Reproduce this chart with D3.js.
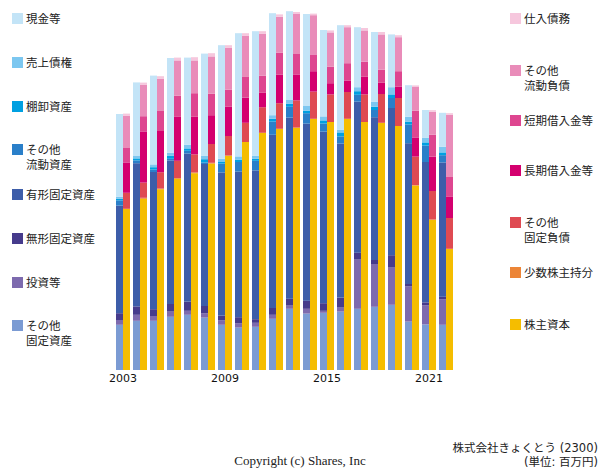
<!DOCTYPE html>
<html><head><meta charset="utf-8">
<script src="https://cdn.jsdelivr.net/npm/d3@7"></script>
<style>
html,body{margin:0;padding:0;background:#fff;}
svg{display:block;}
</style></head>
<body>
<svg id="c" width="600" height="470"></svg>
<script>
// ---- data (百万円) ----
const years = [2003,2004,2005,2006,2007,2008,2009,2010,2011,2012,2013,2014,2015,2016,2017,2018,2019,2020,2021,2022];
const tickYears = [2003,2009,2015,2021];

// assets (bottom -> top)
const otherFixedAssets = [1130,1230,1230,1330,1380,1310,1130,1060,1080,1280,1530,1410,1430,1460,1530,1580,1630,1210,1140,1130];
const investments      = [120,150,120,130,100,110,110,110,100,100,80,120,50,100,1230,1070,930,880,480,640];
const intangibles      = [170,210,170,190,230,180,120,150,90,170,170,200,190,250,170,100,310,60,70,60];
const tangible         = [2690,3580,3430,3590,3700,3550,3580,3640,3720,4330,4530,4430,4290,3850,3780,3570,3680,3520,3510,3360];
const otherCurAssets   = [130,70,60,40,70,40,220,240,240,330,270,260,200,180,170,180,250,470,410,180];
const inventory        = [40,50,60,80,60,80,40,60,50,70,80,60,80,100,90,80,90,70,80,70];
const receivables      = [50,60,70,70,90,90,80,80,80,90,90,120,100,70,100,130,180,120,120,140];
const cash             = [2070,1840,2220,2370,2180,2550,2840,3080,3110,2550,2220,2300,2160,2610,1500,1740,1320,790,690,850];

// liabilities & equity (bottom -> top)
const equity           = [4030,4280,4520,4780,4920,5160,5360,5700,5930,6030,6060,6280,6200,6280,6200,6180,6100,4610,3750,3030];
const minority         = [0,25,15,20,20,20,0,0,0,0,0,0,0,0,0,0,0,15,15,0];
const otherFixedLiab   = [400,380,410,430,450,470,490,480,640,640,680,680,690,670,690,720,700,710,710,770];
const longTermDebt     = [760,1280,1030,1110,940,720,730,630,360,710,650,510,280,280,440,280,280,480,860,540];
const shortTermDebt    = [360,380,500,520,590,540,430,530,430,550,510,420,410,440,380,330,390,670,550,500];
const otherCurLiab     = [810,790,810,880,820,930,1050,1020,1050,900,1000,980,860,900,780,880,850,590,570,1540];
const payables         = [50,50,60,70,80,80,60,60,60,60,50,40,50,50,60,60,50,40,40,40];

const assetNames = ["その他\n固定資産","投資等","無形固定資産","有形固定資産","その他\n流動資産","棚卸資産","売上債権","現金等"];
const assetSeries = [otherFixedAssets,investments,intangibles,tangible,otherCurAssets,inventory,receivables,cash];
const assetColors = ["#7b9bd3","#7d6aae","#463b8c","#3d5da9","#2a7fc9","#00a0e1","#7cc7f0","#c3e4f7"];

const liabNames = ["株主資本","少数株主持分","その他\n固定負債","長期借入金等","短期借入金等","その他\n流動負債","仕入債務"];
const liabSeries = [equity,minority,otherFixedLiab,longTermDebt,shortTermDebt,otherCurLiab,payables];
const liabColors = ["#f5bd00","#ec8537","#df4a52","#d4006f","#de4690","#e98cb9","#f6c7dd"];

// ---- chart ----
const svg = d3.select("#c");
const font = "'Noto Sans CJK JP','DejaVu Sans',sans-serif";

const x = d3.scaleBand().domain(years).range([114.5, 454.5]).paddingInner(3/17).paddingOuter(1.5/17);
const sub = d3.scaleBand().domain(["a","l"]).range([0, x.bandwidth()]);
const y = d3.scaleLinear().domain([0, 9000]).range([370, 10]);

function drawStack(series, colors, key) {
  const rows = years.map((yr, i) => {
    const o = {year: yr};
    series.forEach((s, k) => o["k" + k] = s[i]);
    return o;
  });
  const keys = series.map((s, k) => "k" + k);
  const stacked = d3.stack().keys(keys)(rows);
  const g = svg.append("g");
  stacked.forEach((layer, k) => {
    g.selectAll(null).data(layer).enter().append("rect")
      .attr("x", d => x(d.data.year) + sub(key))
      .attr("width", sub.bandwidth())
      .attr("y", d => y(d[1]))
      .attr("height", d => Math.max(0, y(d[0]) - y(d[1])))
      .attr("fill", colors[k]);
  });
}
drawStack(assetSeries, assetColors, "a");
drawStack(liabSeries, liabColors, "l");

// x axis
const ax = svg.append("g").attr("transform", "translate(0,370)")
  .call(d3.axisBottom(x).tickValues(tickYears).tickSize(0).tickPadding(4));
ax.select(".domain").remove();
ax.selectAll("text").attr("font-family", "'DejaVu Sans',sans-serif").attr("font-size", 11).attr("fill", "#111");

// legends
function legend(names, colors, xs, ys, order) {
  const g = svg.append("g");
  order.forEach((idx, j) => {
    const lines = names[idx].split("\n");
    g.append("rect").attr("x", xs).attr("y", ys[j]).attr("width", 11).attr("height", 11).attr("fill", colors[idx]);
    lines.forEach((ln, li) => {
      g.append("text").attr("x", xs + 14).attr("y", ys[j] + 10 + li * 15)
        .attr("font-family", font).attr("font-size", 11.5).attr("fill", "#222").text(ln);
    });
  });
}
legend(assetNames, assetColors, 12, [13,57,101,144,189,233,277,320], [7,6,5,4,3,2,1,0]);
legend(liabNames, liabColors, 510, [13,65,115,165,217,267,319], [6,5,4,3,2,1,0]);

// footer
const ffont = "'DejaVu Sans','Noto Sans CJK JP',sans-serif";
svg.append("text").attr("x", 598).attr("y", 452).attr("text-anchor", "end")
  .attr("font-family", ffont).attr("font-size", 11.5).attr("fill", "#222").text("株式会社きょくとう (2300)");
svg.append("text").attr("x", 598).attr("y", 466).attr("text-anchor", "end")
  .attr("font-family", ffont).attr("font-size", 11.5).attr("fill", "#222").text("(単位: 百万円)");
svg.append("text").attr("x", 300).attr("y", 465).attr("text-anchor", "middle")
  .attr("font-family", "'Liberation Serif','DejaVu Serif',serif").attr("font-size", 13).attr("fill", "#222")
  .text("Copyright (c) Shares, Inc");
</script>
</body></html>
